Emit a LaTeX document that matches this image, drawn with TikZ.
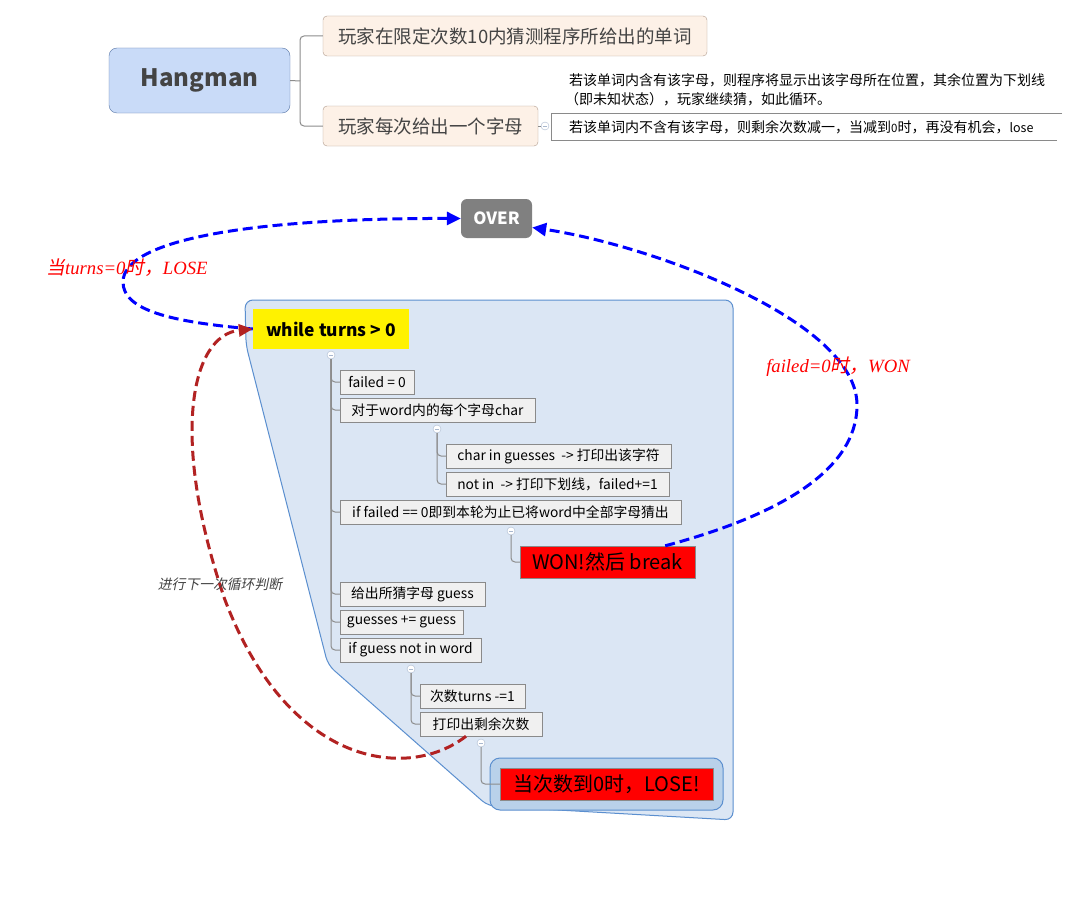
\documentclass[tikz,border=0pt]{standalone}
\usepackage{fontspec}
\setmainfont{Noto Sans CJK SC}
\newfontfamily\cjksl[FakeSlant=0.2]{Noto Sans CJK SC}
\newfontfamily\lserif{Liberation Serif}
\usetikzlibrary{arrows.meta}
\newcommand\fsz[1]{\fontsize{#1}{#1}\selectfont}
\definecolor{hangfill}{HTML}{C9DBF8}
\definecolor{hangdraw}{HTML}{5A78A8}
\definecolor{peach}{HTML}{FDF1E7}
\definecolor{peachdraw}{HTML}{B09A8C}
\definecolor{contfill}{HTML}{DBE6F4}
\definecolor{contdraw}{HTML}{5B8FCF}
\definecolor{innerfill}{HTML}{B9D1EA}
\definecolor{boxfill}{HTML}{F0F0F0}
\definecolor{boxgray}{HTML}{8A8A8A}
\definecolor{treegray}{HTML}{8C8C8C}
\definecolor{collblue}{HTML}{A9B8CF}
\definecolor{overgray}{HTML}{808080}
\definecolor{redcurve}{HTML}{B22222}
\definecolor{txtgray}{HTML}{444444}
\begin{document}
\begin{tikzpicture}[x=1pt,y=-1pt,
  topbox/.style={draw=peachdraw, fill=peach, rounded corners=4, minimum height=40, inner sep=0, font=\fsz{18.5}, text=txtgray},
  tbox/.style={draw=boxgray, fill=boxfill, minimum height=24, inner sep=0, font=\fsz{13.8}},
  redbox/.style={draw=boxgray, fill=red, minimum height=32, inner sep=0, font=\fsz{20}},
  coll/.style={circle, draw=collblue, fill=white, minimum size=8, inner sep=0,
    path picture={\draw[collblue] ([xshift=-2pt]path picture bounding box.center) -- ([xshift=2pt]path picture bounding box.center);}},
  tree/.style={draw=treegray, line width=1, rounded corners=4},
  bluec/.style={draw=blue, line width=3, dash pattern=on 10pt off 5pt, -{Triangle[length=14pt,width=13pt]}},
  redc/.style={draw=redcurve, line width=3, dash pattern=on 10pt off 5pt, -{Triangle[length=14pt,width=12pt]}},
  lbl/.style={text=red, font=\fsz{18.7}}
]
\useasboundingbox (0,0) rectangle (1085,899);
\fill[white] (0,0) rectangle (1085,899);

% ---------- top mind map ----------
\node[draw=hangdraw, fill=hangfill, rounded corners=8, minimum width=181, minimum height=65, inner sep=0,
  font=\fsz{24}\bfseries, text=txtgray] (hang) at (199.5,80.5) {Hangman};
\node[topbox, minimum width=384] (b1) at (515,36) {玩家在限定次数10内猜测程序所给出的单词};
\node[topbox, minimum width=215] (b2) at (430.5,126) {玩家每次给出一个字母};
\coordinate (hub) at (300,81);
\draw[tree] (hang.east) -- (hub);
\draw[tree] (b1.west) -| (hub);
\draw[tree] (b2.west) -| (hub);
\node[coll] (ct) at (545,126) {};
\draw[treegray] (b2.east) -- (ct.west);

\node[anchor=west, inner sep=0, font=\fsz{14}] (t1) at (569,80) {若该单词内含有该字母，则程序将显示出该字母所在位置，其余位置为下划线};
\node[anchor=west, inner sep=0, font=\fsz{14}] (t2) at (565,99) {（即未知状态），玩家继续猜，如此循环。};
\node[anchor=west, inner sep=0, font=\fsz{14}] (t3) at (569,127) {若该单词内不含有该字母，则剩余次数减一，当减到{\fsz{11.5}0}时，再没有机会，{\fsz{12.5}lose}};
\draw[boxgray] (1062,113) -- (551,113) -- (551,140) -- (1057,140);

% ---------- OVER ----------
\node[fill=overgray, rounded corners=6, minimum width=71, minimum height=39, inner sep=0,
  font=\fsz{16.8}\bfseries, text=white] (over) at (496.5,218.5) {OVER};

% ---------- container ----------
\filldraw[fill=contfill, draw=contdraw, line width=1, rounded corners=8]
  (500,300) -- (245,300) -- (246,345) -- (328,665) -- (488,806) -- (733,820) -- (733,300) -- cycle;
\filldraw[fill=innerfill, draw=contdraw, line width=1, rounded corners=10] (490,758) rectangle (723,810);

\node[fill=yellow, minimum width=156, minimum height=40, inner sep=0, font=\fsz{17.4}\bfseries] (while) at (331,329) {while turns > 0};

% ---------- tree boxes ----------
\node[tbox, minimum width=74]  (f0)   at (377,382)   {failed = 0};
\node[tbox, minimum width=195] (forw) at (437.5,410) {对于word内的每个字母char};
\node[tbox, minimum width=225] (cin)  at (558.5,456) {char in guesses\ \ -> 打印出该字符};
\node[tbox, minimum width=223] (nin)  at (557.5,484) {not in\ \ -> 打印下划线，failed+=1};
\node[tbox, minimum width=341] (iff)  at (510.5,512) {if failed == 0即到本轮为止已将word中全部字母猜出};
\node[redbox, minimum width=175] (won) at (607.5,562) {WON!然后 break};
\node[tbox, minimum width=145] (gs)   at (412.5,594) {给出所猜字母 guess};
\node[tbox, minimum width=123] (gpg)  at (401.5,622) {guesses += guess};
\node[tbox, minimum width=141] (ign)  at (410.5,650) {if guess not in word};
\node[tbox, minimum width=105] (tm)   at (472.5,696) {次数turns -=1};
\node[tbox, minimum width=122] (pr)   at (481,724)   {打印出剩余次数};
\node[redbox, minimum width=213] (lose) at (606.5,784) {当次数到0时，LOSE!};

\node[coll] (c1) at (331,355) {};
\node[coll] (c2) at (437,429) {};
\node[coll] (c3) at (511,531) {};
\node[coll] (c4) at (411,669) {};
\node[coll] (c5) at (481,743) {};

\foreach \n in {f0,forw,iff,gs,gpg,ign} \draw[tree] (c1.south) |- (\n.west);
\foreach \n in {cin,nin} \draw[tree] (c2.south) |- (\n.west);
\draw[tree] (c3.south) |- (won.west);
\foreach \n in {tm,pr} \draw[tree] (c4.south) |- (\n.west);
\draw[tree] (c5.south) |- (lose.west);

% ---------- curves ----------
\draw[bluec] (while.west) .. controls (170,322) and (123,310) .. (123,282)
  .. controls (123,240) and (250,218) .. (over.west);
\draw[bluec] ([xshift=-30pt]won.north east) .. controls (780,515) and (857,470) .. (857,405)
  .. controls (857,320) and (650,245) .. ([yshift=-9pt]over.east);
\draw[redc] ([xshift=-15pt]pr.south) .. controls (410,780) and (290,770) .. (225,600)
  .. controls (170,440) and (190,335) .. (while.west);

% ---------- labels ----------
\node[lbl] (l1) at (127,268) {{\cjksl 当}{\lserif\itshape turns=0}{\cjksl 时，}{\lserif\itshape LOSE}};
\node[lbl] (l2) at (838,367) {{\lserif\itshape failed=0}{\cjksl 时，}{\lserif\itshape WON}};
\node[text=txtgray, font=\fsz{13.8}\cjksl] (l3) at (220,584) {进行下一次循环判断};
\end{tikzpicture}
\end{document}
